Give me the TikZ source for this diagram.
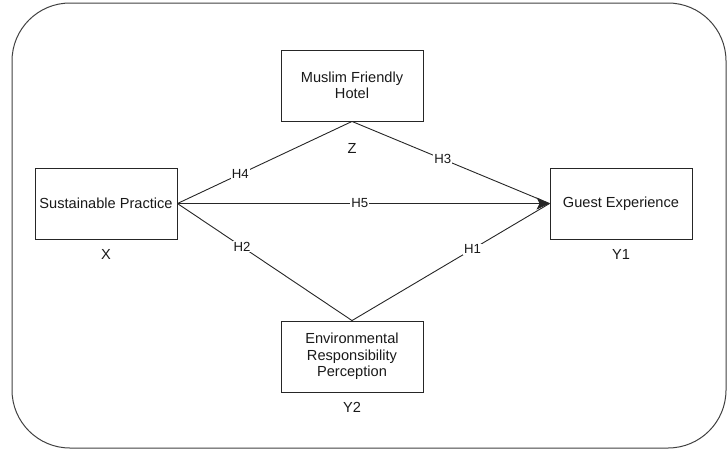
\documentclass[tikz,border=0pt]{standalone}
\usepackage{fontspec}
\setmainfont{Liberation Sans}
\usetikzlibrary{arrows.meta}
\begin{document}
\begin{tikzpicture}[x=1pt,y=-1pt,
  varbox/.style={draw=black!85, line width=0.9pt, minimum width=142pt, minimum height=71pt, inner sep=0pt, align=center, font=\fontsize{14.6}{16.5}\selectfont, text=black!90},
  varlabel/.style={font=\fontsize{14.6}{16.5}\selectfont, text=black!90, inner sep=0pt},
  hlabel/.style={fill=white, inner sep=1pt, font=\fontsize{13.2}{15}\selectfont, text=black!90},
  link/.style={draw=black!85, line width=0.9pt}]
\useasboundingbox (0,0) rectangle (727,450);
\draw[draw=black!75, line width=1pt, rounded corners=58pt] (12,3) rectangle (726,448);
\node[varbox] (sp) at (106,203.5) {Sustainable Practice};
\node[varbox] (ge) at (621,203.5) {Guest Experience};
\node[varbox] (mf) at (352,85.5) {Muslim Friendly\\Hotel};
\node[varbox] (er) at (352,356.5) {Environmental\\Responsibility\\Perception};
\node[varlabel] (lx) at (106,254) {X};
\node[varlabel] (ly1) at (621,254) {Y1};
\node[varlabel] (lz) at (352,148) {Z};
\node[varlabel] (ly2) at (352,407) {Y2};
\draw[link] (sp.east) -- node[hlabel, pos=0.36] {H4} (mf.south);
\draw[link] (mf.south) -- node[hlabel, pos=0.46] {H3} (ge.west);
\draw[link] (sp.east) -- node[hlabel, pos=0.37] {H2} (er.north);
\draw[link] (er.north) -- node[hlabel, pos=0.61] {H1} (ge.west);
\draw[link, -{Stealth[length=13pt,width=12pt,inset=3pt]}] (sp.east) -- node[hlabel, pos=0.49] {H5} (ge.west);
\end{tikzpicture}
\end{document}
